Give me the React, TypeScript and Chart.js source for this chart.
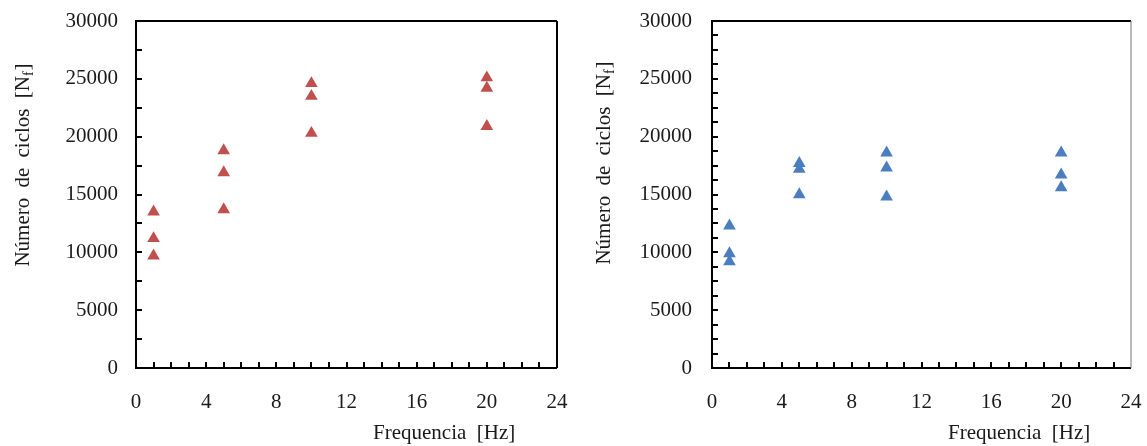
import React, { useEffect, useRef } from "react";
import { Chart, registerables } from "chart.js";

Chart.register(...registerables);

// ---- data ----
const freqHz = [1, 1, 1, 5, 5, 5, 10, 10, 10, 20, 20, 20];
const cyclesLeft = [13500, 11200, 9700, 18800, 16900, 13700, 24600, 23500, 20300, 25100, 24200, 20900];
const cyclesRight = [12300, 9900, 9200, 17700, 17200, 15000, 18600, 17300, 14800, 18600, 16700, 15600];

const xTitleText = "Frequencia  [Hz]";
const yTitleMain = "Número de ciclos [N";
const yTitleSub = "f";
const yTitleEnd = "]";

const FONT = "Liberation Serif";
const TEXT = "#1a1a1a";

const framePlugin = {
  id: "frame",
  afterDraw(chart: any, _args: any, opts: any) {
    const { ctx, chartArea: a } = chart;
    const x = chart.scales.x;
    const y = chart.scales.y;
    ctx.save();
    ctx.strokeStyle = "#000";
    ctx.lineWidth = 2;
    ctx.beginPath();
    ctx.moveTo(a.right, a.top);
    ctx.lineTo(a.left, a.top);
    ctx.lineTo(a.left, a.bottom);
    ctx.lineTo(a.right, a.bottom);
    ctx.stroke();
    ctx.strokeStyle = opts.rightColor;
    ctx.lineWidth = opts.rightWidth;
    ctx.beginPath();
    ctx.moveTo(a.right, a.top);
    ctx.lineTo(a.right, a.bottom);
    ctx.stroke();
    ctx.strokeStyle = "#000";
    ctx.lineWidth = 2;
    ctx.beginPath();
    for (let v = x.min + opts.xMinor; v < x.max; v += opts.xMinor) {
      const px = Math.round(x.getPixelForValue(v));
      ctx.moveTo(px, a.bottom);
      ctx.lineTo(px, a.bottom - 6);
    }
    for (let v = y.min + opts.yMinor; v < y.max; v += opts.yMinor) {
      const py = Math.round(y.getPixelForValue(v));
      ctx.moveTo(a.left, py);
      ctx.lineTo(a.left + 6, py);
    }
    ctx.stroke();

    ctx.fillStyle = TEXT;
    ctx.font = `21px "${FONT}"`;
    ctx.textAlign = "left";
    ctx.textBaseline = "alphabetic";
    ctx.fillText(xTitleText, opts.xTitleX, opts.xTitleY);

    ctx.save();
    ctx.translate(opts.yTitleX, opts.yTitleY);
    ctx.rotate(-Math.PI / 2);
    try {
      (ctx as any).wordSpacing = "5px";
    } catch (e) {}
    ctx.font = `21px "${FONT}"`;
    const w1 = ctx.measureText(yTitleMain).width;
    const w3 = ctx.measureText(yTitleEnd).width;
    ctx.font = `14px "${FONT}"`;
    const w2 = ctx.measureText(yTitleSub).width;
    const total = w1 + w2 + w3 + 1;
    let sx = -total / 2;
    ctx.font = `21px "${FONT}"`;
    ctx.fillText(yTitleMain, sx, 7);
    sx += w1;
    ctx.font = `14px "${FONT}"`;
    ctx.fillText(yTitleSub, sx, 11);
    sx += w2 + 1;
    ctx.font = `21px "${FONT}"`;
    ctx.fillText(yTitleEnd, sx, 7);
    ctx.restore();

    ctx.restore();
  },
};

function makeConfig(values: number[], color: string, p: any) {
  return {
    type: "scatter" as const,
    data: {
      datasets: [
        {
          data: freqHz.map((f, i) => ({ x: f, y: values[i] })),
          pointStyle: "triangle",
          pointRadius: 7.3,
          pointHoverRadius: 7.3,
          backgroundColor: color,
          borderColor: color,
          borderWidth: 0,
        },
      ],
    },
    options: {
      responsive: false,
      animation: false,
      events: [],
      layout: { padding: { left: 0, right: p.padRight, top: p.padTop, bottom: 0 } },
      plugins: {
        legend: { display: false },
        tooltip: { enabled: false },
        frame: p.frame,
      },
      scales: {
        x: {
          type: "linear",
          min: 0,
          max: 24,
          grid: { display: false, drawTicks: false },
          border: { display: false },
          ticks: {
            stepSize: 4,
            padding: 22,
            color: TEXT,
            font: { family: FONT, size: 21 },
            callback: (v: any) => String(v),
            maxRotation: 0,
          },
          afterFit: (s: any) => {
            s.height = p.xHeight;
            s.paddingLeft = 0;
            s.paddingRight = 0;
          },
        },
        y: {
          type: "linear",
          min: 0,
          max: 30000,
          grid: { display: false, drawTicks: false },
          border: { display: false },
          ticks: {
            stepSize: 5000,
            padding: p.yPad,
            color: TEXT,
            font: { family: FONT, size: 21 },
            callback: (v: any) => String(v),
          },
          afterFit: (s: any) => {
            s.width = p.yWidth;
            s.paddingTop = 0;
            s.paddingBottom = 0;
          },
        },
      },
    },
    plugins: [framePlugin],
  };
}

function ChartCanvas({ values, color, p, left, width }: any) {
  const ref = useRef<HTMLCanvasElement>(null);
  useEffect(() => {
    if (!ref.current) return;
    const chart = new Chart(ref.current, makeConfig(values, color, p) as any);
    return () => chart.destroy();
  }, []);
  return (
    <canvas
      ref={ref}
      width={width}
      height={446}
      style={{ position: "absolute", left, top: 0, width, height: 446, display: "block" }}
    />
  );
}

export default function App() {
  return (
    <div style={{ position: "absolute", left: 0, top: 0, width: 1147, height: 446, background: "#fff" }}>
      <ChartCanvas
        values={cyclesLeft}
        color="#C0504D"
        left={0}
        width={575}
        p={{
          padRight: 18,
          padTop: 21,
          xHeight: 78,
          yWidth: 136,
          yPad: 18,
          frame: {
            xMinor: 1,
            yMinor: 2500,
            rightColor: "#000",
            rightWidth: 2,
            xTitleX: 373,
            xTitleY: 439,
            yTitleX: 22,
            yTitleY: 165,
          },
        }}
      />
      <ChartCanvas
        values={cyclesRight}
        color="#4A7EBF"
        left={575}
        width={572}
        p={{
          padRight: 16,
          padTop: 21,
          xHeight: 78,
          yWidth: 137,
          yPad: 20,
          frame: {
            xMinor: 1,
            yMinor: 1250,
            rightColor: "#777",
            rightWidth: 1,
            xTitleX: 373,
            xTitleY: 439,
            yTitleX: 28,
            yTitleY: 163,
          },
        }}
      />
    </div>
  );
}
